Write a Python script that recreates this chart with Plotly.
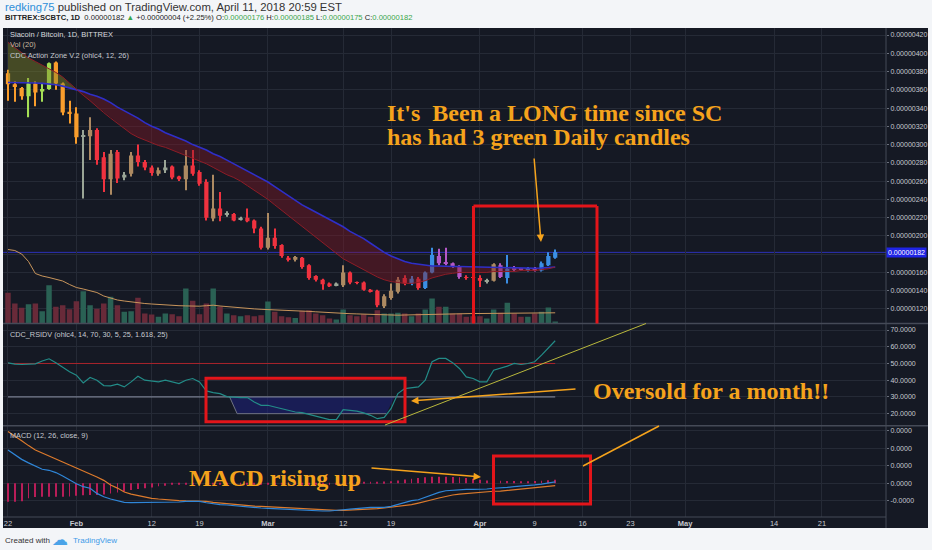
import plotly.graph_objects as go
import pandas as pd

# ---------------- data (prices in satoshi = 1e-8 BTC) ----------------
dates = pd.date_range("2018-01-22", periods=81, freq="D")

opens = [378, 366, 362, 353, 367, 358, 361, 390, 367, 336,
         334, 309, 309, 316, 286, 262, 292, 264, 268, 288,
         281, 275, 268, 272, 276, 265, 262, 277, 270, 259,
         219, 230, 223, 224, 218, 220, 217, 208, 187, 198,
         190, 176, 174, 176, 168, 156, 152, 148, 146, 146,
         160, 149.5, 149, 141, 140, 123, 132, 139, 154, 148,
         153, 143, 160, 178, 169.5, 170, 167, 155, 154.5, 154,
         150, 151, 168, 154, 165, 163.5, 162, 164.5, 162, 168,
         176]
highs = [382, 369, 363, 373, 369, 367, 390, 391, 368, 348,
         341, 316, 330, 318, 292, 294, 294, 270, 292, 300,
         283, 277, 275, 283, 277, 266, 294, 294, 272, 262,
         267, 248, 227, 225, 221, 230, 218, 210, 225, 208,
         191, 178, 178, 177, 169, 157, 153, 149, 149, 168,
         161, 150, 150, 142, 141, 136, 148, 155, 157, 156,
         155, 161, 187, 186, 187, 171, 168, 157, 156, 157,
         153, 170, 170, 179, 167, 164.5, 166, 166, 172, 182,
         185]
lows = [348, 347, 349, 330, 342, 347, 360, 360, 332, 323,
        301, 241, 283, 278, 248, 245, 258, 261, 265, 276,
        272, 266, 266, 269, 262, 260, 250, 266, 255, 217,
        216, 216, 221, 216, 217, 215, 203, 185, 185, 186,
        176, 172, 172, 164, 152, 150, 141, 144, 145, 144,
        147, 147, 140, 138, 122, 121, 130, 137, 146, 146,
        141, 142, 159, 168, 168, 165, 153, 152, 152, 144,
        148, 150, 154, 148, 161, 162, 161, 161, 161, 167,
        175]
closes = [366, 364, 353, 367, 357, 361, 389, 367, 335, 334,
          308, 310, 316, 283, 262, 290, 263, 267, 288, 281,
          275, 269, 272, 275, 264, 262, 277, 268, 257, 220,
          230, 222, 225, 217, 220, 216, 208, 187, 198, 189,
          178, 174, 177, 166, 154, 152, 147, 145, 148, 160,
          149, 148.5, 141, 139, 124, 134, 140, 152, 148, 153,
          143, 160, 179, 170, 170.5, 166, 155, 154, 154, 151,
          151, 169, 155, 164, 163, 163, 165, 162, 170, 178,
          182]
# CDC action-zone bar colour codes
bar_zone = ["O", "O", "O", "G", "O", "G", "G", "O", "O", "O",
            "O", "S", "T", "R", "R", "T", "R", "S", "T", "R",
            "R", "R", "T", "S", "R", "R", "T", "R", "R", "R",
            "T", "R", "S", "R", "S", "R", "R", "R", "T", "R",
            "R", "R", "T", "R", "R", "R", "R", "R", "S", "T",
            "R", "R", "R", "R", "R", "T", "T", "T", "R", "B",
            "R", "B", "B", "P", "P", "P", "P", "R", "R", "R",
            "S", "T", "P", "B", "P", "P", "B", "P", "B", "B",
            "B"]
volume = [30.7, 20, 15.7, 19.3, 20, 12.3, 38.3, 16.7, 18.3, 14.3,
          22.3, 32.3, 18.3, 14.7, 20, 26.7, 18.3, 11.7, 12.3, 25.7,
          10, 9, 6.7, 10, 9.3, 7.3, 35, 22.7, 9.3, 20,
          35, 16.7, 10, 8.3, 7.3, 8.3, 7.3, 8.3, 22, 11.7,
          7.3, 6.3, 5.5, 12.7, 13.3, 10, 8.3, 5, 4, 14,
          8.3, 7.3, 9.3, 6.7, 13.3, 10, 10, 10.7, 10, 7.3,
          10, 14, 25, 16.7, 16.7, 10, 10, 6.7, 7.3, 7.3,
          5, 14, 10.7, 20.7, 10, 6.7, 6.7, 10, 11.7, 16,
          2]
volume_ma = [74, 73, 69.5, 62, 50, 47.5, 46, 44, 42.5, 39,
             36, 34.5, 33, 31, 27.5, 25.5, 23.5, 22.5, 21.5, 20.7,
             20, 19.5, 19, 18.3, 18, 17.8, 17.6, 17.4, 17.3, 17.8,
             18.3, 17.5, 16.8, 16.2, 15.8, 15.3, 14.6, 14.2, 14, 13.7,
             13.5, 13.3, 13.1, 12.7, 12.1, 11.7, 11.2, 10.8, 10.5, 10.2,
             9.8, 9.6, 9.3, 9.1, 8.9, 8.7, 8.5, 8.3, 8.5, 8.7,
             9, 9.2, 9.3, 9.5, 9.7, 9.8, 9.9, 10, 10, 10,
             10.1, 10.2, 10.3, 10.4, 10.5, 10.6, 10.7, 10.7, 10.7, 10.8,
             10.7]
ema_fast = [412, 406, 400, 395, 391, 387, 383, 379, 374, 367,
            360, 354, 348, 341, 335, 329, 323, 317, 312, 308,
            305, 302, 299, 297, 294, 291, 288, 285, 282, 279,
            275, 271, 267, 264, 260, 255, 250, 245, 240, 234,
            228, 222, 216, 210, 204, 198, 192, 186, 180, 175,
            171, 167, 163, 159, 155, 152, 150, 149, 148, 148,
            149, 151, 154, 156, 158, 159, 160, 160, 160, 160,
            160, 161, 161, 161, 161, 162, 162, 162, 163, 164,
            166]
ema_slow = [368, 368, 368, 367.5, 367.5, 367, 366.5, 365.5, 364, 362,
            360, 358, 355, 353, 350, 346, 341, 337, 333, 329,
            324, 320, 317, 313, 310, 307, 304, 300, 297, 294,
            290, 287, 283, 279, 275, 271, 267, 263, 259, 254,
            249, 244, 239, 234, 230, 226, 222, 218, 214, 210,
            205, 201, 197, 192, 187, 182, 178, 175, 172, 170,
            169, 168, 167, 167, 166.5, 166.5, 166.5, 166.3, 166, 165.8,
            165.5, 165.2, 165, 164.8, 164.6, 164.5, 164.5, 164.6, 164.8, 165.2,
            165.8]
rsi = [50.4, 49.6, 49.4, 49.4, 49.8, 51.5, 52.8, 50.5, 47.5, 45.0,
       43.0, 38.4, 41.6, 40.0, 36.8, 36.6, 37.6, 36.0, 39.0, 42.4,
       40.0, 39.4, 39.0, 40.0, 39.0, 38.0, 40.0, 41.0, 39.0, 33.6,
       32.6, 32.0, 30.2, 29.8, 29.6, 29.6, 27.0, 25.0, 25.0, 24.0,
       23.0, 21.8, 21.0, 20.6, 19.5, 18.2, 17.2, 16.4, 16.4, 22.4,
       22.0, 21.5, 20.5, 19.0, 17.0, 17.8, 23.0, 32.0, 35.0, 35.4,
       36.0, 40.0, 51.0, 53.0, 53.0, 50.5, 47.0, 42.0, 41.0, 39.0,
       39.0, 46.0, 47.0, 48.4, 50.0, 49.4, 50.0, 51.0, 55.0, 59.0,
       63.6]
rsi_mid = 50
rsi_oversold = 30
oversold_dates = ["2018-02-23 09:36", "2018-02-24 12:00", "2018-03-18 07:12", "2018-03-19 12:00"]
oversold_vals = [30, 20, 20, 30]
# MACD values in 1e-9 BTC
macd = [18.9, 16.1, 13.6, 11.6, 9.7, 8.0, 7.4, 6.1, 4.2, 1.9,
        -0.2, -1.9, -2.8, -5.7, -7.6, -8.9, -10.0, -10.8, -11.0, -11.0,
        -11.0, -11.0, -11.0, -10.8, -10.8, -10.6, -10.2, -10.0, -10.2, -11.0,
        -11.6, -12.1, -12.3, -12.7, -13.1, -13.4, -13.8, -14.0, -14.2, -14.4,
        -14.6, -14.8, -15.2, -15.3, -15.5, -15.7, -15.7, -15.7, -15.5, -15.0,
        -14.6, -14.2, -13.8, -13.6, -13.6, -13.6, -13.1, -11.9, -10.6, -9.8,
        -9.3, -7.8, -6.3, -5.1, -4.2, -3.8, -3.6, -3.4, -3.4, -3.4,
        -3.2, -2.8, -2.7, -2.3, -1.9, -1.7, -1.3, -0.9, -0.4, 0.2,
        0.8]
signal = [29.4, 26.9, 24.1, 21.4, 18.9, 17.2, 15.5, 14.0, 12.5, 10.8,
          8.9, 7.2, 5.3, 3.6, 1.7, -0.9, -2.7, -4.9, -6.1, -7.0,
          -8.0, -8.5, -8.9, -9.3, -9.7, -9.8, -10.0, -10.0, -10.0, -10.2,
          -10.8, -11.2, -11.6, -11.9, -12.3, -12.5, -12.9, -13.1, -13.3, -13.4,
          -13.6, -13.8, -14.0, -14.4, -14.6, -15.0, -15.2, -15.3, -15.3, -15.3,
          -15.2, -15.0, -14.8, -14.6, -14.4, -14.0, -13.6, -13.3, -12.7, -12.1,
          -11.2, -10.4, -9.3, -8.3, -7.4, -6.6, -6.1, -5.7, -5.3, -4.9,
          -4.7, -4.5, -4.4, -4.0, -3.6, -3.4, -3.0, -2.7, -2.3, -1.9,
          -1.3]
hist = [-10.4, -10.4, -10.2, -8.5, -7.8, -7.6, -7.6, -7.6, -7.6, -7.4,
        -7.0, -6.8, -6.6, -6.6, -6.4, -5.8, -5.2, -4.8, -3.8, -3.2,
        -2.8, -2.4, -1.6, -1.3, -0.8, -0.5, -0.4, -0.4, -0.4, -0.4,
        -0.4, -0.4, -0.4, -0.4, -0.4, -0.4, -0.4, -0.4, -0.4, -0.4,
        -0.4, -0.4, -0.4, -0.4, -0.4, -0.4, -0.4, -0.4, -0.4, 0.3,
        0.4, 0.5, 0.6, 0.8, 0.9, 1.0, 1.2, 1.6, 2.2, 2.6,
        3.0, 3.4, 3.8, 3.8, 3.8, 3.6, 3.4, 3.0, 2.6, 2.0,
        1.6, 1.5, 1.4, 1.3, 1.3, 1.2, 1.2, 1.3, 1.5, 1.7,
        2.0]

price_ticks = [120, 140, 160, 180, 200, 220, 240, 260, 280, 300, 320, 340, 360, 380, 400, 420]
rsi_ticks = [20, 30, 40, 50, 60, 70]
macd_ticks = [-10, 0, 10, 20, 30]
date_ticks = ["2018-01-22", "2018-02-01", "2018-02-12", "2018-02-19", "2018-03-01",
              "2018-03-12", "2018-03-19", "2018-04-01", "2018-04-09", "2018-04-16",
              "2018-04-23", "2018-05-01", "2018-05-14", "2018-05-21"]
date_labels = ["22", "<b>Feb</b>", "12", "19", "<b>Mar</b>", "12", "19", "<b>Apr</b>",
               "9", "16", "23", "<b>May</b>", "14", "21"]

# ---------------- layout helpers ----------------
PL, PR, PT, PB = 3, 886, 28, 517          # plot area in pixels
def px(x):
    return (x - PL) / (PR - PL)
def py(y):
    return (PB - y) / (PB - PT)

DAY = 86400000
BG = "#151924"
GRID = "#252a36"
ORANGE = "#f5a31c"
BOXRED = "#e3151a"
zone_col = {"O": "#f99d2c", "G": "#a4df55", "R": "#f0323f", "T": "#ad8a62",
            "S": "#9aa596", "B": "#3b8ee4", "P": "#b458c8"}
cols = [zone_col[z] for z in bar_zone]
vol_cols = ["#2a6154" if c >= o else "#682a39" for o, c in zip(opens, closes)]
body_base = [min(o, c) for o, c in zip(opens, closes)]
body_h = [max(abs(c - o), 1.0) for o, c in zip(opens, closes)]
wick_h = [h - l for h, l in zip(highs, lows)]

main_bottom = py(323.5)
macd_top = py(425.7)

fig = go.Figure()

# volume (base axis y, drawn under price overlay)
fig.add_trace(go.Bar(x=dates, y=volume, width=0.8 * DAY, marker=dict(color=vol_cols, line=dict(width=0)),
                     xaxis="x", yaxis="y"))
fig.add_trace(go.Scatter(x=dates, y=volume_ma, mode="lines", line=dict(color="#c8955c", width=1),
                         xaxis="x", yaxis="y"))

# EMA ribbon fills
cross = 10
fig.add_trace(go.Scatter(x=dates[:cross + 1], y=ema_slow[:cross + 1], mode="lines", line=dict(width=0),
                         xaxis="x", yaxis="y4"))
fig.add_trace(go.Scatter(x=dates[:cross + 1], y=ema_fast[:cross + 1], mode="lines", line=dict(width=0),
                         fill="tonexty", fillcolor="rgba(128,136,40,0.45)", xaxis="x", yaxis="y4"))
fig.add_trace(go.Scatter(x=dates[cross:], y=ema_slow[cross:], mode="lines", line=dict(width=0),
                         xaxis="x", yaxis="y4"))
fig.add_trace(go.Scatter(x=dates[cross:], y=ema_fast[cross:], mode="lines", line=dict(width=0),
                         fill="tonexty", fillcolor="rgba(130,25,38,0.42)", xaxis="x", yaxis="y4"))
fig.add_trace(go.Scatter(x=dates, y=ema_slow, mode="lines", line=dict(color="#2f2fc8", width=1.6),
                         xaxis="x", yaxis="y4"))
fig.add_trace(go.Scatter(x=dates, y=ema_fast, mode="lines", line=dict(color="#8e1d27", width=1),
                         xaxis="x", yaxis="y4"))

# candles
fig.add_trace(go.Bar(x=dates, y=wick_h, base=lows, width=0.16 * DAY,
                     marker=dict(color=cols, line=dict(width=0)), xaxis="x", yaxis="y4"))
fig.add_trace(go.Bar(x=dates, y=body_h, base=body_base, width=0.62 * DAY,
                     marker=dict(color=cols, line=dict(width=0)), xaxis="x", yaxis="y4"))

# RSI panel
fig.add_trace(go.Scatter(x=oversold_dates, y=oversold_vals, mode="lines", fill="toself",
                         fillcolor="rgba(30,32,125,0.55)", line=dict(width=0), xaxis="x2", yaxis="y2"))
fig.add_trace(go.Scatter(x=oversold_dates[:3], y=oversold_vals[:3], mode="lines",
                         line=dict(color="#6f7482", width=1), xaxis="x2", yaxis="y2"))
fig.add_trace(go.Scatter(x=dates, y=[rsi_mid] * len(dates), mode="lines",
                         line=dict(color="#a8232c", width=1), xaxis="x2", yaxis="y2"))
fig.add_trace(go.Scatter(x=dates, y=[rsi_oversold] * len(dates), mode="lines",
                         line=dict(color="#8d94a8", width=1), xaxis="x2", yaxis="y2"))
fig.add_trace(go.Scatter(x=dates, y=rsi, mode="lines", line=dict(color="#238c88", width=1.2),
                         xaxis="x2", yaxis="y2"))

# MACD panel
fig.add_trace(go.Bar(x=dates, y=hist, width=0.12 * DAY, marker=dict(color="#b81d58", line=dict(width=0)),
                     xaxis="x3", yaxis="y3"))
fig.add_trace(go.Scatter(x=dates, y=signal, mode="lines", line=dict(color="#dc7a2c", width=1.2),
                         xaxis="x3", yaxis="y3"))
fig.add_trace(go.Scatter(x=dates, y=macd, mode="lines", line=dict(color="#2f86d8", width=1.2),
                         xaxis="x3", yaxis="y3"))

tickfont = dict(family="Liberation Sans, Arial, sans-serif", size=7, color="#c6c9d0")
x_range = ["2018-01-21 06:30", "2018-05-30 08:40"]
xcommon = dict(type="date", range=x_range, tickvals=date_ticks, showgrid=True, gridcolor=GRID,
               gridwidth=1, zeroline=False, showline=False, ticks="", fixedrange=True)
ycommon = dict(side="right", showgrid=True, gridcolor=GRID, zeroline=False, showline=False,
               ticks="outside", ticklen=2, tickcolor="#6b707c", tickfont=tickfont, fixedrange=True)

last_price = closes[-1]
price_labels = ["" if abs(v - last_price) < 5 else f"{v * 1e-8:.8f}" for v in price_ticks]

fig.update_layout(
    width=932, height=550,
    margin=dict(l=PL, r=932 - PR, t=PT, b=550 - PB, pad=0),
    paper_bgcolor="#f3f5f8", plot_bgcolor=BG,
    showlegend=False, barmode="overlay", hovermode=False,
    font=dict(family="Liberation Sans, Arial, sans-serif", size=8, color="#c6c9d0"),
    xaxis=dict(**xcommon, anchor="y", showticklabels=False),
    xaxis2=dict(**xcommon, anchor="y2", matches="x", showticklabels=False),
    xaxis3=dict(**xcommon, anchor="y3", matches="x", ticktext=date_labels, showticklabels=True,
                tickfont=dict(tickfont, size=7.5)),
    yaxis=dict(domain=[main_bottom, 1], range=[0, 295.5], visible=False, fixedrange=True),
    yaxis4=dict(**ycommon, overlaying="y", anchor="x", range=[104.1, 427.66], tickvals=price_ticks,
                ticktext=price_labels),
    yaxis2=dict(**ycommon, domain=[macd_top, main_bottom], anchor="x2", range=[12.8, 73.9],
                tickvals=rsi_ticks, ticktext=[f"{v:.4f}" for v in rsi_ticks]),
    yaxis3=dict(**ycommon, domain=[0, macd_top], anchor="x3", range=[-19.1, 32.7],
                tickvals=macd_ticks, ticktext=[("-" if v < 0 else "") + "0.0000" for v in macd_ticks]),
)

shapes = []
# dark chart background incl. price scale
shapes.append(dict(type="rect", xref="paper", yref="paper", x0=px(3), x1=px(928), y0=py(528), y1=py(28),
                   fillcolor=BG, line=dict(width=0), layer="below"))
# panel separators
sep = dict(color="#454a57", width=1.5)
for yy in (323.5, 425.7):
    shapes.append(dict(type="line", xref="paper", yref="paper", x0=px(3), x1=px(928), y0=py(yy), y1=py(yy),
                       line=sep))
shapes.append(dict(type="line", xref="paper", yref="paper", x0=px(3), x1=px(886), y0=py(517), y1=py(517),
                   line=dict(color="#454a57", width=1)))
shapes.append(dict(type="line", xref="paper", yref="paper", x0=px(886), x1=px(886), y0=py(528), y1=py(28),
                   line=dict(color="#454a57", width=1)))
# last price line
shapes.append(dict(type="line", xref="paper", yref="y4", x0=0, x1=1, y0=last_price, y1=last_price,
                   line=dict(color="#2d31b8", width=1), layer="below"))
# red highlight boxes
rb = dict(color=BOXRED, width=3)
shapes.append(dict(type="line", xref="paper", yref="paper", x0=px(473.5), x1=px(473.5), y0=py(206), y1=py(323.5), line=rb))
shapes.append(dict(type="line", xref="paper", yref="paper", x0=px(473.5), x1=px(597), y0=py(206), y1=py(206), line=rb))
shapes.append(dict(type="line", xref="paper", yref="paper", x0=px(597), x1=px(597), y0=py(206), y1=py(323.5), line=rb))
shapes.append(dict(type="rect", xref="paper", yref="paper", x0=px(206), x1=px(405), y0=py(421.7), y1=py(378.3), line=rb))
shapes.append(dict(type="rect", xref="paper", yref="paper", x0=px(493.5), x1=px(590.5), y0=py(504), y1=py(456), line=rb))
# drawn trend lines
shapes.append(dict(type="line", xref="paper", yref="paper", x0=px(385), x1=px(646), y0=py(425), y1=py(323.5),
                   line=dict(color="#b9b83c", width=1)))
shapes.append(dict(type="line", xref="paper", yref="paper", x0=px(583), x1=px(659), y0=py(466), y1=py(426),
                   line=dict(color=ORANGE, width=1.5)))
fig.update_layout(shapes=shapes)

ann = []
def text(x, y, s, size=8, color="#c6c9d0", family="Liberation Sans, Arial, sans-serif", **kw):
    ann.append(dict(xref="paper", yref="paper", x=px(x), y=py(y), text=s, showarrow=False,
                    xanchor="left", yanchor="middle", font=dict(size=size, color=color, family=family), **kw))

prev = closes[-2]
chg = last_price - prev
g = "#3aa64b"
text(3, 6.5, "<span style='color:#2f8fd8'>redking75</span> published on TradingView.com, April 11, 2018 20:59 EST",
     size=11.3, color="#333333")
text(3, 17.5, f"<b>BITTREX:SCBTC, 1D</b>  {last_price * 1e-8:.8f} <span style='color:{g}'>▲</span> "
              f"+{chg * 1e-8:.8f} (+{chg / prev * 100:.2f}%) "
              f"O:<span style='color:{g}'>{opens[-1] * 1e-8:.8f}</span> "
              f"H:<span style='color:{g}'>{highs[-1] * 1e-8:.8f}</span> "
              f"L:<span style='color:{g}'>{lows[-1] * 1e-8:.8f}</span> "
              f"C:<span style='color:{g}'>{closes[-1] * 1e-8:.8f}</span>",
     size=7.6, color="#222222")
text(8, 34.5, "Siacoin / Bitcoin, 1D, BITTREX", size=7.5, color="#d8dadf")
text(8, 44.8, "Vol (20)", size=7.5, color="#c9b9a0")
text(8, 55, "CDC Action Zone V.2 (ohlc4, 12, 26)", size=7.4, color="#c6c9d0")
text(8, 334.3, "CDC_RSIDV (ohlc4, 14, 70, 30, 5, 25, 1.618, 25)", size=7.3, color="#c6c9d0")
text(8, 435.7, "MACD (12, 26, close, 9)", size=7.3, color="#c6c9d0")

serif = "Liberation Serif, Times New Roman, serif"
text(385, 113.3, "<b>It's\u00a0 Been a LONG time since SC</b>", size=24, color=ORANGE, family=serif)
text(385, 136.7, "<b>has had 3 green Daily candles</b>", size=24, color=ORANGE, family=serif)
text(591, 390.7, "<b>Oversold for a month!!</b>", size=24, color=ORANGE, family=serif)
text(187, 478.3, "<b>MACD rising up</b>", size=24, color=ORANGE, family=serif)

text(3, 540, "Created with", size=8, color="#333333")
text(50, 539.5, "☁", size=16, color="#4aa3e8", family="DejaVu Sans")
text(71, 540, "TradingView", size=8, color="#3d9ae8")

# last price tag on the price scale
ann.append(dict(xref="paper", yref="y4", x=px(886), y=last_price, text=f"{last_price * 1e-8:.8f}",
                showarrow=False, xanchor="left", yanchor="middle", bgcolor="#1f24e6", borderpad=1,
                font=dict(size=7, color="#ffffff", family="Liberation Sans, Arial, sans-serif")))

# arrows
def arrow(hx, hy, tx, ty):
    ann.append(dict(xref="paper", yref="paper", x=px(hx), y=py(hy), ax=tx - hx, ay=ty - hy, text="",
                    showarrow=True, arrowhead=2, arrowsize=1, arrowwidth=1.5, arrowcolor=ORANGE))
arrow(541, 242, 534, 157)
arrow(411, 401, 577, 389)
arrow(481, 477, 370, 468)

fig.update_layout(annotations=ann)

fig.write_html("out.html", config={"displayModeBar": False},
               post_script="document.body.style.margin='0';document.documentElement.style.overflow='hidden';")
